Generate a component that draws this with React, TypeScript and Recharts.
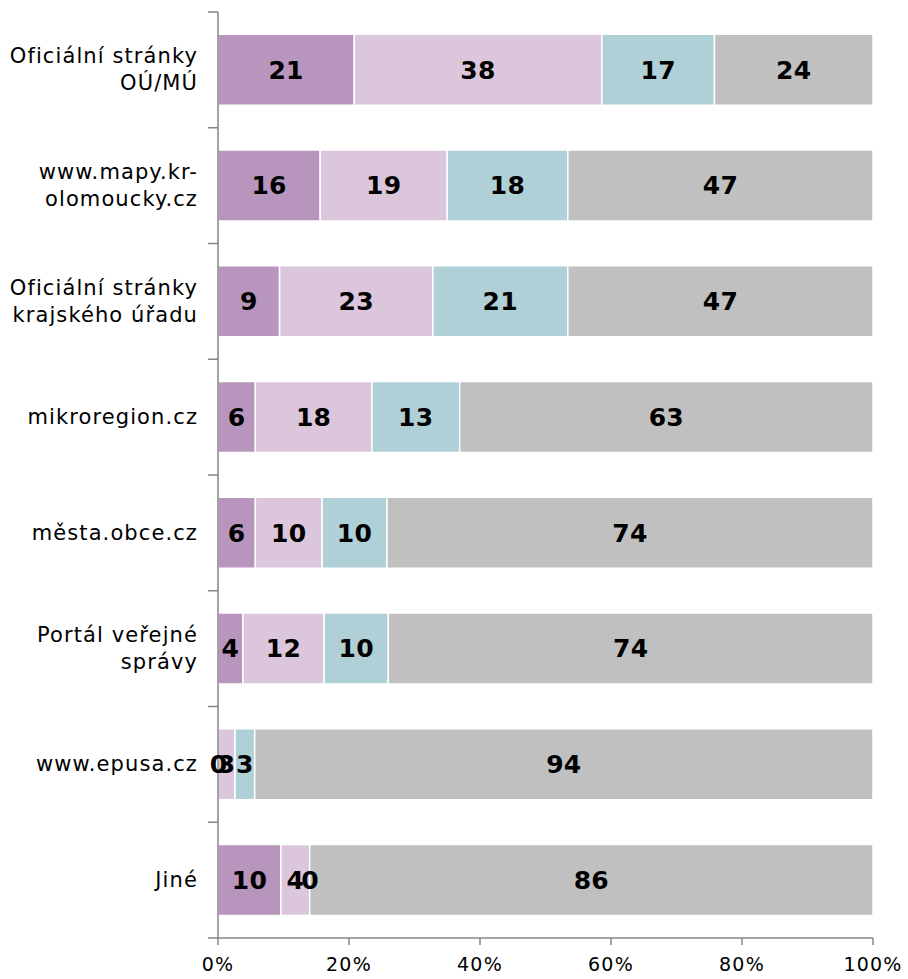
import * as React from "react";
import { BarChart, Bar, XAxis, YAxis, LabelList } from "recharts";

const categories = [
  "Oficiální stránky\nOÚ/MÚ",
  "www.mapy.kr-\nolomoucky.cz",
  "Oficiální stránky\nkrajského úřadu",
  "mikroregion.cz",
  "města.obce.cz",
  "Portál veřejné\nsprávy",
  "www.epusa.cz",
  "Jiné",
];

const seriesA = [20.8, 15.6, 9.4, 5.7, 5.7, 3.8, 0, 9.6];
const seriesB = [37.8, 19.4, 23.4, 17.8, 10.2, 12.4, 2.6, 4.4];
const seriesC = [17.2, 18.4, 20.6, 13.4, 9.9, 9.8, 3.0, 0];
const seriesD = [24.2, 46.6, 46.6, 63.1, 74.2, 74.0, 94.4, 86.0];

const xTicks = [0, 20, 40, 60, 80, 100];

const colors = ["#b895bd", "#dbc6db", "#b0d0d8", "#c0c0c0"];
const keys = ["a", "b", "c", "d"];

const data = categories.map((name, i) => ({
  name,
  a: seriesA[i],
  b: seriesB[i],
  c: seriesC[i],
  d: seriesD[i],
}));

const FONT = "'DejaVu Sans', Verdana, sans-serif";
const AXIS = "#868686";
const W = 908;
const H = 979;
const MARGIN = { top: 12, right: 35, bottom: 0, left: 0 };

function CategoryTick(props: any) {
  const { x, y, payload, index } = props;
  const lines = String(payload.value).split("\n");
  const axisX = x + 20;
  const half = payload.offset || 57.875;
  const lh = 27;
  const startY = y - ((lines.length - 1) * lh) / 2;
  return (
    <g>
      <line x1={axisX - 10} x2={axisX} y1={y - half} y2={y - half} stroke={AXIS} strokeWidth={1.5} />
      {index === categories.length - 1 && (
        <line x1={axisX - 10} x2={axisX} y1={y + half} y2={y + half} stroke={AXIS} strokeWidth={1.5} />
      )}
      <text
        x={x}
        y={startY}
        textAnchor="end"
        fontSize={21}
        letterSpacing={1.1}
        fontFamily={FONT}
        fill="#000"
      >
        {lines.map((l, i) => (
          <tspan key={i} x={x} dy={i === 0 ? 7 : lh}>
            {l}
          </tspan>
        ))}
      </text>
    </g>
  );
}

const labelStyle = {
  fontFamily: FONT,
  fontSize: 25,
  fontWeight: "bold" as const,
  letterSpacing: 0.3,
  fill: "#000",
};

// labels go in an overlay chart with the same layout so they sit above every segment
function Chart({ labels }: { labels: boolean }) {
  return (
    <BarChart
      width={W}
      height={H}
      data={data}
      layout="vertical"
      barCategoryGap="19.3%"
      margin={MARGIN}
    >
      <XAxis
        type="number"
        domain={[0, 100]}
        ticks={xTicks}
        tickFormatter={(v: number) => `${v}%`}
        height={41}
        tickSize={7}
        tickMargin={13}
        axisLine={labels ? false : { stroke: AXIS, strokeWidth: 1.5 }}
        tickLine={labels ? false : { stroke: AXIS, strokeWidth: 1.5 }}
        tick={labels ? false : { fill: "#000", fontSize: 19, fontFamily: FONT, letterSpacing: 1.2 }}
        interval={0}
      />
      <YAxis
        type="category"
        dataKey="name"
        width={218}
        tickSize={10}
        tickMargin={10}
        tickLine={false}
        axisLine={labels ? false : { stroke: AXIS, strokeWidth: 1.5 }}
        tick={labels ? false : <CategoryTick />}
        interval={0}
      />
      {keys.map((k, i) => (
        <Bar
          key={k}
          dataKey={k}
          stackId="s"
          fill={labels ? "none" : colors[i]}
          stroke={labels ? "none" : "#fff"}
          strokeWidth={1.5}
          minPointSize={labels ? 1 : 0}
          isAnimationActive={false}
        >
          {labels && (
            <LabelList
              dataKey={k}
              position="center"
              formatter={(v: any) => String(Math.round(Number(v)))}
              style={labelStyle}
            />
          )}
        </Bar>
      ))}
    </BarChart>
  );
}

export default function App() {
  return (
    <div style={{ position: "absolute", left: 0, top: 0, width: W, height: H, background: "#fff" }}>
      <div style={{ position: "absolute", left: 0, top: 0 }}>
        <Chart labels={false} />
      </div>
      <div style={{ position: "absolute", left: 0, top: 0 }}>
        <Chart labels={true} />
      </div>
    </div>
  );
}
